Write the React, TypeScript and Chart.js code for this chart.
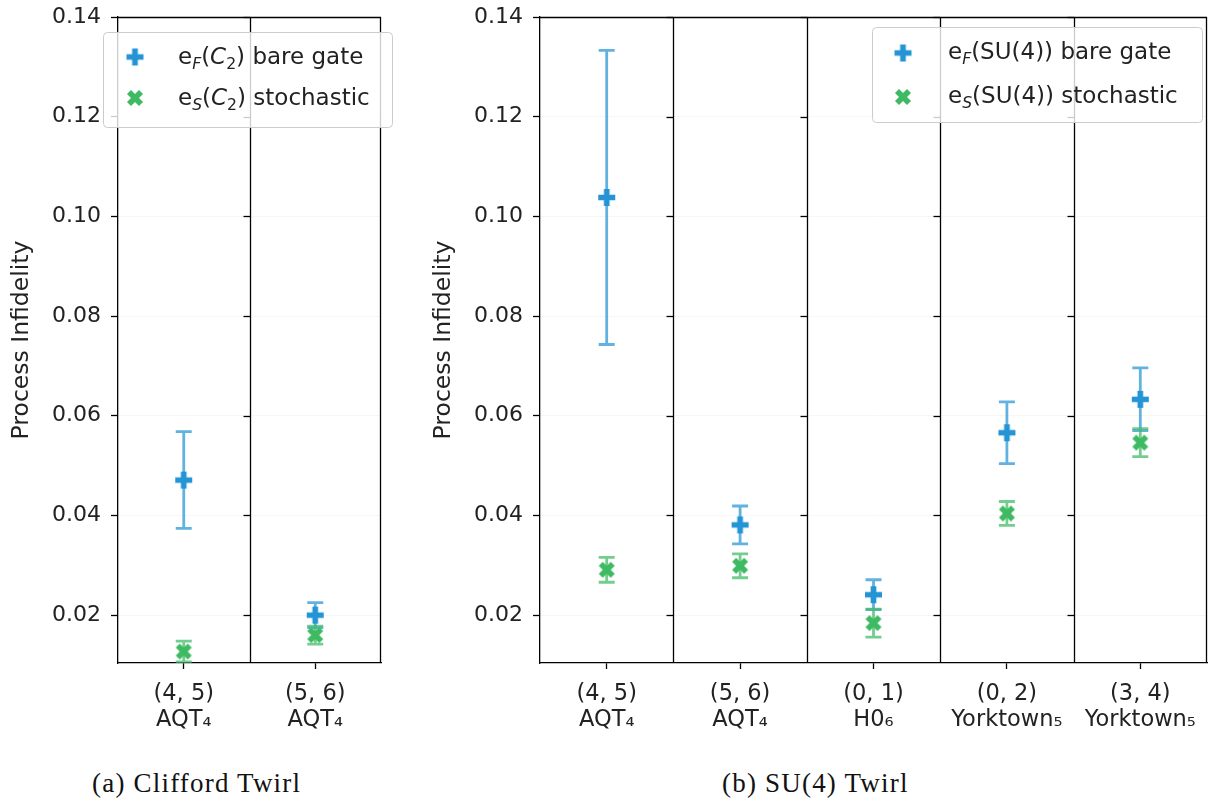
import React, { useEffect, useRef } from "react";
import { Chart, registerables } from "chart.js";
Chart.register(...registerables);

// ---------------- data ----------------
const yTickValues = [0.02, 0.04, 0.06, 0.08, 0.1, 0.12, 0.14];
const yMin = 0.0104;
const yMax = 0.14;

const cliffordPairs = ["(4, 5)", "(5, 6)"];
const cliffordDevices = ["AQT₄", "AQT₄"];
const cliffordBare = [0.0471, 0.02];
const cliffordBareErr = [0.0097, 0.0025];
const cliffordStoch = [0.0127, 0.016];
const cliffordStochErr = [0.0021, 0.0018];

const suPairs = ["(4, 5)", "(5, 6)", "(0, 1)", "(0, 2)", "(3, 4)"];
const suDevices = ["AQT₄", "AQT₄", "H0₆", "Yorktown₅", "Yorktown₅"];
const suBare = [0.1038, 0.0381, 0.0241, 0.0566, 0.0633];
const suBareErr = [0.0295, 0.0038, 0.003, 0.0062, 0.0063];
const suStoch = [0.0291, 0.0299, 0.0184, 0.0404, 0.0546];
const suStochErr = [0.0025, 0.0024, 0.0028, 0.0024, 0.0028];

// ---------------- styles ----------------
const FONT = "'DejaVu Sans', sans-serif";
const BLUE = "#2494d5";
const GREEN = "#3dba62";
const BLUE_ERR = "rgba(36,148,213,0.72)";
const GREEN_ERR = "rgba(61,186,98,0.72)";
const TEXT = "#222";
const CANVAS_H = 750;
const PLOT_TOP = 17;
const PLOT_BOTTOM = 663;

type Seg = { t: string; sub?: boolean; italic?: boolean };

function makeMarker(kind: "P" | "X", color: string, size: number) {
  const c = document.createElement("canvas");
  const pad = 2;
  c.width = size + pad * 2;
  c.height = size + pad * 2;
  const ctx = c.getContext("2d")!;
  ctx.fillStyle = color;
  ctx.translate(c.width / 2, c.height / 2);
  let pts: number[][];
  let s: number;
  if (kind === "P") {
    pts = [[-1, -3], [1, -3], [1, -1], [3, -1], [3, 1], [1, 1], [1, 3], [-1, 3], [-1, 1], [-3, 1], [-3, -1], [-1, -1]];
    s = size / 6;
  } else {
    pts = [[-1, -2], [0, -1], [1, -2], [2, -1], [1, 0], [2, 1], [1, 2], [0, 1], [-1, 2], [-2, 1], [-1, 0], [-2, -1]];
    s = size / 4;
  }
  ctx.beginPath();
  pts.forEach(([px, py], i) => {
    if (i === 0) ctx.moveTo(px * s, py * s);
    else ctx.lineTo(px * s, py * s);
  });
  ctx.closePath();
  ctx.fill();
  return c;
}

function drawRich(ctx: CanvasRenderingContext2D, x: number, y: number, segs: Seg[], size: number) {
  let cx = x;
  for (const s of segs) {
    const fs = s.sub ? size * 0.68 : size;
    ctx.font = `${s.italic ? "oblique " : ""}${fs}px ${FONT}`;
    const dy = s.sub ? size * 0.22 : 0;
    ctx.fillText(s.t, cx, y + dy);
    cx += ctx.measureText(s.t).width;
  }
}

const panelPlugin = {
  id: "panel",
  beforeDatasetsDraw(chart: any, _args: any, opts: any) {
    const { ctx, chartArea: a } = chart;
    const x = chart.scales.x;
    const y = chart.scales.y;
    const n = chart.data.labels.length;
    ctx.save();
    ctx.strokeStyle = "#000";
    ctx.lineWidth = 1.3;
    // dividers between sub-panels, with their own y tick marks
    for (let i = 1; i < n; i++) {
      const bx = Math.round((x.getPixelForValue(i - 1) + x.getPixelForValue(i)) / 2) + 0.5;
      ctx.beginPath();
      ctx.moveTo(bx, a.top);
      ctx.lineTo(bx, a.bottom);
      ctx.stroke();
      for (const t of yTickValues) {
        const yy = Math.round(y.getPixelForValue(t)) + 0.5;
        ctx.beginPath();
        ctx.moveTo(bx - 7, yy);
        ctx.lineTo(bx, yy);
        ctx.stroke();
      }
    }
    // top and right frame
    ctx.beginPath();
    ctx.moveTo(a.left, a.top + 0.5);
    ctx.lineTo(a.right, a.top + 0.5);
    ctx.moveTo(a.right - 0.5, a.top);
    ctx.lineTo(a.right - 0.5, a.bottom);
    ctx.stroke();

    // error bars
    ctx.beginPath();
    ctx.rect(a.left, a.top, a.right - a.left, a.bottom - a.top);
    ctx.clip();
    chart.data.datasets.forEach((ds: any, di: number) => {
      const meta = chart.getDatasetMeta(di);
      ctx.strokeStyle = ds.errColor;
      ctx.lineWidth = 2.8;
      meta.data.forEach((pt: any, i: number) => {
        const v = ds.data[i];
        const e = ds.errorValues[i];
        const y1 = y.getPixelForValue(v + e);
        const y2 = y.getPixelForValue(v - e);
        ctx.beginPath();
        ctx.moveTo(pt.x, y1);
        ctx.lineTo(pt.x, y2);
        ctx.moveTo(pt.x - 8, y1);
        ctx.lineTo(pt.x + 8, y1);
        ctx.moveTo(pt.x - 8, y2);
        ctx.lineTo(pt.x + 8, y2);
        ctx.stroke();
      });
    });
    ctx.restore();
  },
  afterDraw(chart: any, _args: any, opts: any) {
    const { ctx, chartArea: a } = chart;
    ctx.save();
    // y axis title
    ctx.fillStyle = TEXT;
    ctx.font = `${opts.titleSize}px ${FONT}`;
    ctx.textAlign = "center";
    ctx.textBaseline = "middle";
    ctx.translate(opts.titleX, (a.top + a.bottom) / 2);
    ctx.rotate(-Math.PI / 2);
    ctx.fillText(opts.title, 0, 0);
    ctx.restore();

    // legend
    const L = opts.legend;
    ctx.save();
    ctx.beginPath();
    (ctx as any).roundRect(L.x + 0.5, L.y + 0.5, L.w, L.h, 4);
    ctx.fillStyle = "rgba(255,255,255,0.8)";
    ctx.fill();
    ctx.strokeStyle = "#cccccc";
    ctx.lineWidth = 1;
    ctx.stroke();
    ctx.fillStyle = TEXT;
    ctx.textAlign = "left";
    ctx.textBaseline = "alphabetic";
    L.items.forEach((it: any, i: number) => {
      const my = L.markerY[i];
      const m = it.marker as HTMLCanvasElement;
      ctx.drawImage(m, L.markerX - m.width / 2, my - m.height / 2);
      drawRich(ctx, L.textX, my + L.baseOffset, it.segs, L.fontSize);
    });
    ctx.restore();
  },
};

function buildConfig(
  pairs: string[],
  devices: string[],
  bare: number[],
  bareErr: number[],
  stoch: number[],
  stochErr: number[],
  axisWidth: number,
  padRight: number,
  legend: any,
  titleX: number
) {
  const plusM = makeMarker("P", BLUE, 17);
  const xM = makeMarker("X", GREEN, 16);
  const labels = pairs.map((p, i) => [p, devices[i]]);
  return {
    type: "line",
    data: {
      labels,
      datasets: [
        {
          label: "bare",
          data: bare,
          errorValues: bareErr,
          errColor: BLUE_ERR,
          showLine: false,
          pointStyle: plusM,
          pointRadius: 8,
          pointHoverRadius: 8,
          order: 1,
        },
        {
          label: "stochastic",
          data: stoch,
          errorValues: stochErr,
          errColor: GREEN_ERR,
          showLine: false,
          pointStyle: xM,
          pointRadius: 8,
          pointHoverRadius: 8,
          order: 0,
        },
      ],
    },
    options: {
      responsive: false,
      maintainAspectRatio: false,
      animation: false,
      devicePixelRatio: 1,
      layout: { autoPadding: false, padding: { top: PLOT_TOP, right: padRight, left: 0, bottom: 0 } },
      plugins: {
        legend: { display: false },
        tooltip: { enabled: false },
        panel: {
          legend: {
            ...legend,
            items: [
              { marker: plusM, segs: legend.segs[0] },
              { marker: xM, segs: legend.segs[1] },
            ],
          },
          title: "Process Infidelity",
          titleSize: 23.5,
          titleX,
        },
      },
      scales: {
        x: {
          type: "category",
          offset: true,
          afterFit: (s: any) => {
            s.height = CANVAS_H - PLOT_BOTTOM;
            s.paddingLeft = 0;
            s.paddingRight = 0;
          },
          grid: {
            display: true,
            drawOnChartArea: false,
            offset: false,
            tickLength: 6,
            tickColor: "#000",
            tickWidth: 1.3,
          },
          border: { display: true, color: "#000", width: 1.3 },
          ticks: {
            color: TEXT,
            font: { family: FONT, size: 22.5, lineHeight: 1.15 },
            padding: 12,
            maxRotation: 0,
            autoSkip: false,
          },
        },
        y: {
          type: "linear",
          min: yMin,
          max: yMax,
          afterFit: (s: any) => {
            s.width = axisWidth;
            s.paddingTop = 0;
            s.paddingBottom = 0;
          },
          afterBuildTicks: (s: any) => {
            s.ticks = yTickValues.map((v) => ({ value: v }));
          },
          grid: {
            color: "rgba(0,0,0,0.035)",
            tickColor: "#000",
            tickLength: 7,
            tickWidth: 1.3,
          },
          border: { display: true, color: "#000", width: 1.3 },
          ticks: {
            color: TEXT,
            font: { family: FONT, size: 22 },
            padding: 10,
            callback: (v: number) => v.toFixed(2),
          },
        },
      },
    },
    plugins: [panelPlugin],
  };
}

function Panel(props: {
  left: number;
  width: number;
  cfg: () => any;
}) {
  const ref = useRef<HTMLCanvasElement>(null);
  useEffect(() => {
    const chart = new Chart(ref.current as HTMLCanvasElement, props.cfg() as any);
    return () => chart.destroy();
  }, []);
  return (
    <canvas
      ref={ref}
      width={props.width}
      height={CANVAS_H}
      style={{ position: "absolute", left: props.left, top: 0, width: props.width, height: CANVAS_H }}
    />
  );
}

const captionStyle: React.CSSProperties = {
  position: "absolute",
  top: 768,
  fontFamily: "'Liberation Serif', serif",
  fontSize: 27,
  letterSpacing: 1.2,
  color: "#111",
  whiteSpace: "nowrap",
  lineHeight: "30px",
};

export default function App() {
  const leftCfg = () =>
    buildConfig(
      cliffordPairs,
      cliffordDevices,
      cliffordBare,
      cliffordBareErr,
      cliffordStoch,
      cliffordStochErr,
      118,
      19,
      {
        x: 103,
        y: 32,
        w: 289,
        h: 95,
        markerX: 135,
        markerY: [57, 98],
        textX: 178,
        baseOffset: 7,
        fontSize: 23,
        segs: [
          [
            { t: "e" },
            { t: "F", sub: true, italic: true },
            { t: "(" },
            { t: "C", italic: true },
            { t: "2", sub: true },
            { t: ") bare gate" },
          ],
          [
            { t: "e" },
            { t: "S", sub: true, italic: true },
            { t: "(" },
            { t: "C", italic: true },
            { t: "2", sub: true },
            { t: ") stochastic" },
          ],
        ],
      },
      22
    );
  const rightCfg = () =>
    buildConfig(
      suPairs,
      suDevices,
      suBare,
      suBareErr,
      suStoch,
      suStochErr,
      120,
      2,
      {
        x: 452,
        y: 27,
        w: 330,
        h: 95,
        markerX: 483,
        markerY: [53, 97],
        textX: 528,
        baseOffset: 6,
        fontSize: 23,
        segs: [
          [{ t: "e" }, { t: "F", sub: true, italic: true }, { t: "(SU(4)) bare gate" }],
          [{ t: "e" }, { t: "S", sub: true, italic: true }, { t: "(SU(4)) stochastic" }],
        ],
      },
      24
    );
  return (
    <div style={{ position: "fixed", left: 0, top: 0, width: 1209, height: 806, background: "#fff", overflow: "hidden" }}>
      <Panel left={0} width={400} cfg={leftCfg} />
      <Panel left={420} width={789} cfg={rightCfg} />
      <div style={{ ...captionStyle, left: 92 }}>(a) Clifford Twirl</div>
      <div style={{ ...captionStyle, left: 722 }}>(b) SU(4) Twirl</div>
    </div>
  );
}
